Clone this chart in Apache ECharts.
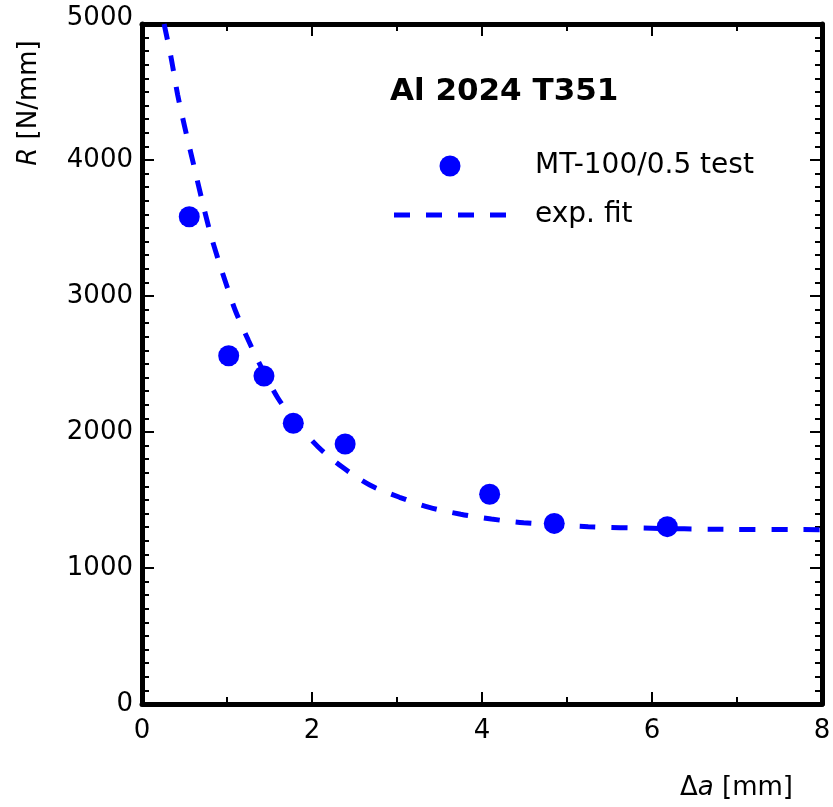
<!DOCTYPE html>
<html>
<head>
<meta charset="utf-8">
<script src="https://cdn.jsdelivr.net/npm/echarts@6/dist/echarts.min.js"></script>
<style>html,body{margin:0;padding:0;background:#fff}#chart{width:833px;height:807px}</style>
</head>
<body>
<div id="chart"></div>
<script>
// measured test points: crack extension Δa [mm], R [N/mm]
const testDa = [0.556, 1.02, 1.435, 1.78, 2.39, 4.09, 4.85, 6.18];
const testR  = [3583, 2561, 2412, 2064, 1912, 1542, 1328, 1304];
// points
const fitDa = [0.26, 0.34, 0.42, 0.5, 0.6, 0.7, 0.8, 0.9, 1.0, 1.1, 1.25, 1.4, 1.6, 1.8, 2.07, 2.36, 2.68, 3.03, 3.38, 3.75, 4.11, 4.49, 5.25, 6.0, 6.76, 8.0];
const fitR  = [5000, 4760, 4478, 4250, 3985, 3720, 3470, 3260, 3070, 2890, 2676, 2480, 2248, 2080, 1892, 1740, 1610, 1520, 1446, 1395, 1360, 1333, 1304, 1292, 1285, 1282];
const xTicks = [0, 2, 4, 6, 8];
const yTicks = [0, 1000, 2000, 3000, 4000, 5000];
const titleText = 'Al 2024 T351';
const seriesNames = ['MT-100/0.5 test', 'exp. fit'];

const FONT = 'DejaVu Sans';
const BLUE = '#0000ff';
const chart = echarts.init(document.getElementById('chart'), null, {renderer: 'canvas'});

const tickCommon = {show: true, inside: true, length: 12, lineStyle: {color: '#000', width: 2}};
const minorCommon = {show: true, length: 7, lineStyle: {color: '#000', width: 2}};
const lineCommon = {show: true, onZero: false, lineStyle: {color: '#000', width: 5}};

const xMin = xTicks[0], xMax = xTicks[xTicks.length - 1];
const yMin = yTicks[0], yMax = yTicks[yTicks.length - 1];

// dashed legend key: four dashes, 16 long with 16 gaps, 5 thick
const dashIcon = 'path://M0,0h16v5h-16z M32,0h16v5h-16z M64,0h16v5h-16z M96,0h16v5h-16z';

chart.setOption({
  animation: false,
  backgroundColor: '#fff',
  grid: {left: 142, top: 24, width: 680, height: 680, containLabel: false, outerBoundsMode: 'none'},
  xAxis: [
    {type: 'value', position: 'bottom', min: xMin, max: xMax, interval: xTicks[1] - xTicks[0],
     axisLine: lineCommon, axisTick: tickCommon,
     minorTick: Object.assign({splitNumber: 2}, minorCommon),
     splitLine: {show: false},
     axisLabel: {show: true, color: '#000', fontFamily: FONT, fontSize: 26, margin: 14}},
    {type: 'value', position: 'top', min: xMin, max: xMax, interval: xTicks[1] - xTicks[0],
     axisLine: lineCommon, axisTick: tickCommon,
     minorTick: Object.assign({splitNumber: 2}, minorCommon),
     splitLine: {show: false}, axisLabel: {show: false}}
  ],
  yAxis: [
    {type: 'value', position: 'left', min: yMin, max: yMax, interval: yTicks[1] - yTicks[0],
     axisLine: lineCommon, axisTick: tickCommon,
     minorTick: Object.assign({splitNumber: 10}, minorCommon),
     splitLine: {show: false},
     axisLabel: {show: true, color: '#000', fontFamily: FONT, fontSize: 26, margin: 9,
       formatter: function (v) { return v === yMax ? '{top|' + v + '}' : String(v); },
       rich: {top: {fontFamily: FONT, fontSize: 26, color: '#000', padding: [0, 0, 12, 0]}}}},
    {type: 'value', position: 'right', min: yMin, max: yMax, interval: yTicks[1] - yTicks[0],
     axisLine: lineCommon, axisTick: tickCommon,
     minorTick: Object.assign({splitNumber: 10}, minorCommon),
     splitLine: {show: false}, axisLabel: {show: false}}
  ],
  legend: {
    orient: 'vertical', left: 394, top: 152, itemWidth: 112, itemHeight: 21, itemGap: 21,
    padding: 0,
    data: [
      {name: seriesNames[0], icon: 'circle', itemStyle: {color: BLUE, opacity: 1}},
      {name: seriesNames[1], icon: dashIcon, itemStyle: {color: BLUE, opacity: 1, borderWidth: 0}}
    ],
    textStyle: {fontFamily: FONT, fontSize: 28, color: '#000', padding: [0, 0, 0, 24]}
  },
  graphic: [
    {type: 'text', x: 390, y: 92, style: {text: titleText, font: 'bold 31px "DejaVu Sans"', fill: '#000', align: 'left', verticalAlign: 'middle'}},
    {type: 'text', x: 793, y: 788, style: {text: '\u0394{i|a} [mm]', font: '26px "DejaVu Sans"', fill: '#000', align: 'right', verticalAlign: 'middle',
      rich: {i: {fontFamily: FONT, fontSize: 26, fontStyle: 'italic', fill: '#000'}}}},
    {type: 'text', x: 29, y: 103, rotation: Math.PI / 2, style: {text: '{i|R} [N/mm]', font: '26px "DejaVu Sans"', fill: '#000', align: 'center', verticalAlign: 'middle',
      rich: {i: {fontFamily: FONT, fontSize: 26, fontStyle: 'italic', fill: '#000'}}}}
  ],
  series: [
    {name: seriesNames[0], type: 'scatter', xAxisIndex: 0, yAxisIndex: 0,
     symbol: 'circle', symbolSize: 21, itemStyle: {color: BLUE, opacity: 1},
     data: testDa.map((x, i) => [x, testR[i]]), z: 3},
    {name: seriesNames[1], type: 'line', xAxisIndex: 0, yAxisIndex: 0,
     smooth: 0.3, showSymbol: false, symbol: 'none', clip: true,
     lineStyle: {color: BLUE, width: 5, type: [16, 16], cap: 'butt'},
     itemStyle: {color: BLUE},
     data: fitDa.map((x, i) => [x, fitR[i]]), z: 4}
  ]
});
</script>
</body>
</html>
